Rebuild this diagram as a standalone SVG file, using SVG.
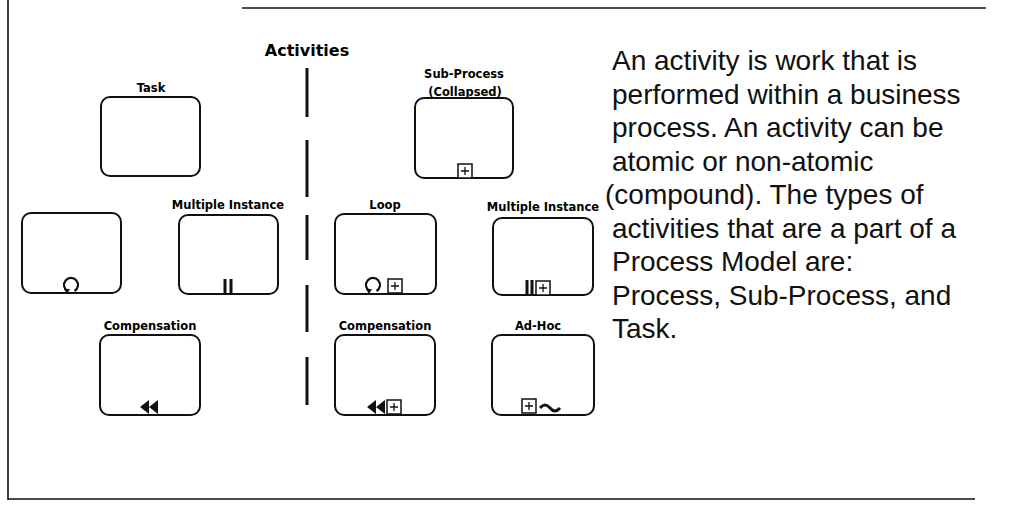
<svg xmlns="http://www.w3.org/2000/svg" width="1026" height="505" viewBox="0 0 1026 505">
<style>
.bg{fill:#fff}
.frame{stroke:#111;stroke-width:1.6;fill:none}
.box{fill:#fff;stroke:#111;stroke-width:2}
.lbl{font-family:"DejaVu Sans",sans-serif;font-weight:bold;font-size:11.5px;fill:#000;text-anchor:middle}
.title{font-family:"DejaVu Sans",sans-serif;font-weight:bold;font-size:16px;fill:#000;text-anchor:middle}
.body{font-family:"Liberation Sans",Arial,sans-serif;font-size:28px;fill:#111}
.pm{fill:#fff;stroke:#111;stroke-width:1.5}
.pmx{stroke:#111;stroke-width:1.3;fill:none}
.bar{stroke:#111;stroke-width:3}
.loop{fill:none;stroke:#111;stroke-width:2.2}
.tri{fill:#111}
.div{stroke:#111;stroke-width:3;fill:none}
</style>
<defs>
<g id="plus"><rect class="pm" x="0" y="0" width="14" height="14"/><path class="pmx" d="M7 3V11M3 7H11"/></g>
<g id="loopicon"><path class="loop" d="M-3.5 6 A7 7 0 1 1 3.5 6"/><path class="tri" d="M-7 4 L-1 4 L-4 9 Z"/></g>
<g id="comp"><path class="tri" d="M0 7 L9 0 L9 14 Z M9 7 L18 0 L18 14 Z"/></g>
</defs>
<rect class="bg" x="0" y="0" width="1026" height="505"/>
<g id="frame">
<path class="frame" d="M8 0V500M242 8H986M8 499H975"/>
</g>
<g id="title"><text class="title" x="307" y="56">Activities</text></g>
<g id="connectors">
<path class="div" d="M307 68V117M307 140V197M307 215V260M307 285V332M307 357V405"/>
</g>
<g id="task">
<text class="lbl" x="151" y="92">Task</text>
<rect class="box" x="101" y="97" width="99" height="79" rx="9"/>
</g>
<g id="subprocess">
<text class="lbl" x="464" y="78">Sub-Process</text>
<text class="lbl" x="465" y="96">(Collapsed)</text>
<rect class="box" x="415" y="98" width="98" height="80" rx="9"/>
<use href="#plus" x="458" y="164"/>
</g>
<g id="task-loop">
<rect class="box" x="22" y="213" width="99" height="80" rx="9"/>
<use href="#loopicon" x="71" y="285"/>
</g>
<g id="task-multiple-instance">
<text class="lbl" x="228" y="209">Multiple Instance</text>
<rect class="box" x="179" y="215" width="99" height="79" rx="9"/>
<path class="bar" d="M225 279V294M231 279V294"/>
</g>
<g id="subprocess-loop">
<text class="lbl" x="385" y="209">Loop</text>
<rect class="box" x="335" y="214" width="101" height="80" rx="9"/>
<use href="#loopicon" x="373" y="285"/>
<use href="#plus" x="388" y="279"/>
</g>
<g id="subprocess-multiple-instance">
<text class="lbl" x="543" y="211">Multiple Instance</text>
<rect class="box" x="493" y="218" width="100" height="77" rx="9"/>
<path class="bar" d="M527 280V295M532 280V295"/>
<use href="#plus" x="536" y="281"/>
</g>
<g id="task-compensation">
<text class="lbl" x="150" y="330">Compensation</text>
<rect class="box" x="100" y="335" width="100" height="80" rx="9"/>
<use href="#comp" x="140" y="400"/>
</g>
<g id="subprocess-compensation">
<text class="lbl" x="385" y="330">Compensation</text>
<rect class="box" x="335" y="335" width="100" height="80" rx="9"/>
<use href="#comp" x="367" y="400"/>
<use href="#plus" x="387" y="400"/>
</g>
<g id="subprocess-adhoc">
<text class="lbl" x="538" y="330">Ad-Hoc</text>
<rect class="box" x="492" y="335" width="102" height="80" rx="9"/>
<use href="#plus" x="522" y="399"/>
<path class="loop" style="stroke-width:3" d="M540 408 q5 -6 10 0 t10 0"/>
</g>
<g id="description">
<text class="body" x="612" y="70">An activity is work that is</text>
<text class="body" x="612" y="103.5">performed within a business</text>
<text class="body" x="612" y="137">process. An activity can be</text>
<text class="body" x="612" y="170.5">atomic or non-atomic</text>
<text class="body" x="605" y="204">(compound). The types of</text>
<text class="body" x="612" y="237.5">activities that are a part of a</text>
<text class="body" x="612" y="271">Process Model are:</text>
<text class="body" x="612" y="304.5">Process, Sub-Process, and</text>
<text class="body" x="612" y="338">Task.</text>
</g>
</svg>
